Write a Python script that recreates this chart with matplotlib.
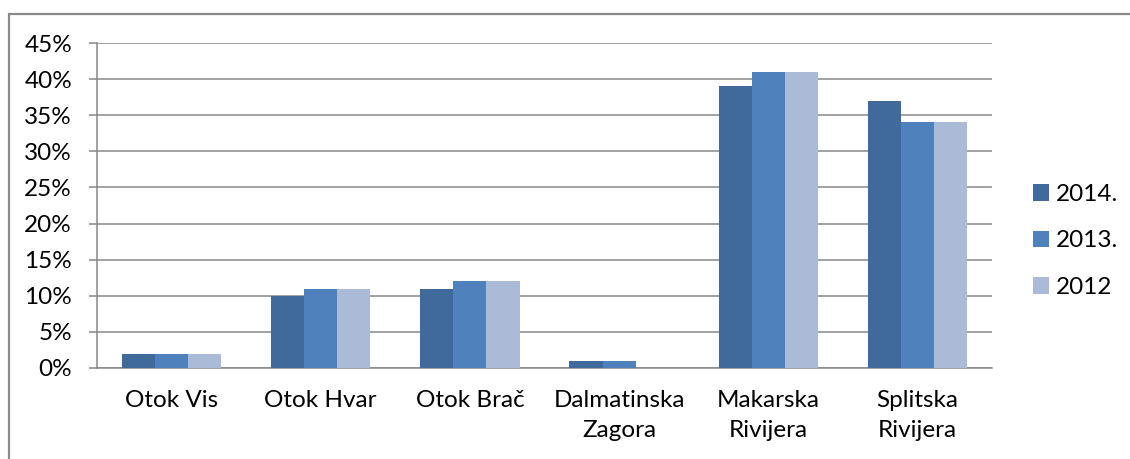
import matplotlib
matplotlib.use("Agg")
import matplotlib.pyplot as plt
from matplotlib.patches import Rectangle
import numpy as np

categories = ["Otok Vis", "Otok Hvar", "Otok Brač", "Dalmatinska\nZagora", "Makarska\nRivijera", "Splitska\nRivijera"]
series_names = ["2014.", "2013.", "2012"]
v2014 = [2, 10, 11, 1, 39, 37]
v2013 = [2, 11, 12, 1, 41, 34]
v2012 = [2, 11, 12, 0, 41, 34]
yticks = [0, 5, 10, 15, 20, 25, 30, 35, 40, 45]
ytick_labels = [f"{t}%" for t in yticks]

colors = ["#3F6A9B", "#4F81BD", "#AABAD7"]
grid_c = "#878787"

plt.rcParams['font.family'] = ['Lato', 'DejaVu Sans']
FS = 17.5

fig = plt.figure(figsize=(11.3, 4.59), dpi=100)
W, H = 1130, 459
ax = fig.add_axes([97 / W, 1 - 368 / H, (992 - 97) / W, (368 - 43) / H])

x = np.arange(len(categories))
w = 1 / 4.5
for i, (vals, name) in enumerate(zip([v2014, v2013, v2012], series_names)):
    ax.bar(x + (i - 1) * w, vals, width=w, color=colors[i], label=name, zorder=3, linewidth=0)

ax.set_xlim(-0.5, len(categories) - 0.5)
ax.set_ylim(0, 45)
ax.set_yticks(yticks)
ax.set_yticklabels(ytick_labels, fontsize=FS)
ax.set_xticks(x)
ax.set_xticklabels(categories, fontsize=FS, linespacing=1.5)

ax.yaxis.grid(True, color=grid_c, linewidth=1.1, zorder=0)
ax.set_axisbelow(True)
for s in ["top", "right"]:
    ax.spines[s].set_visible(False)
for s in ["left", "bottom"]:
    ax.spines[s].set_color(grid_c)
    ax.spines[s].set_linewidth(1.1)
ax.tick_params(axis='y', length=6, width=1.1, color=grid_c, pad=12)
ax.tick_params(axis='x', length=0, pad=16)

leg = ax.legend(loc='center left', bbox_to_anchor=(1033 / W, 1 - 241 / H),
                bbox_transform=fig.transFigure, frameon=False, fontsize=FS,
                handlelength=0.65, handleheight=0.65, handletextpad=0.3,
                labelspacing=1.05, borderpad=0, borderaxespad=0)

fig.patches.append(Rectangle((8.5 / W, -0.5), 2.0, (1 - 13.5 / H) + 0.5,
                             transform=fig.transFigure, fill=False,
                             edgecolor="#8A8A8A", linewidth=1.6))

fig.savefig("out.png", dpi=100)
